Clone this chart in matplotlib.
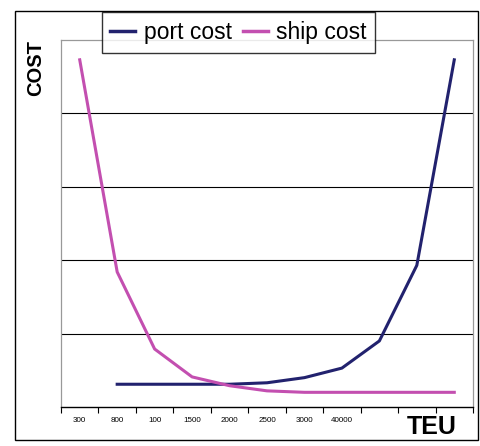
import matplotlib
matplotlib.use("Agg")
import matplotlib.pyplot as plt
from matplotlib.patches import Rectangle

plt.rcParams['font.family'] = ['Liberation Sans', 'DejaVu Sans']

teu_labels = ["300", "800", "100", "1500", "2000", "2500", "3000", "40000", "", "", ""]
ship_cost = [4.73, 1.84, 0.79, 0.41, 0.29, 0.22, 0.20, 0.20, 0.20, 0.20, 0.20]
port_cost = [None, 0.31, 0.31, 0.31, 0.31, 0.33, 0.40, 0.53, 0.90, 1.93, 4.73]

fig = plt.figure(figsize=(4.81, 4.46), dpi=100)
fig.patch.set_facecolor("white")
fig.patches.append(Rectangle((15 / 481, 1 - 440 / 446), 463 / 481, 429 / 446,
                             transform=fig.transFigure, fill=False,
                             edgecolor="black", linewidth=1.0))

ax = fig.add_axes([61 / 481, 1 - 407 / 446, 412 / 481, 367 / 446])

n = len(teu_labels)
xs = [i + 0.5 for i in range(n)]
px = [x for x, v in zip(xs, port_cost) if v is not None]
py = [v for v in port_cost if v is not None]

port_line, = ax.plot(px, py, color="#22226e", linewidth=2.2, label="port cost", zorder=3)
ship_line, = ax.plot(xs, ship_cost, color="#c34fb0", linewidth=2.2, label="ship cost", zorder=3)

ax.set_xlim(0, n)
ax.set_ylim(0, 5)
ax.set_yticks([1, 2, 3, 4])
ax.yaxis.grid(True, color="black", linewidth=0.8)
ax.tick_params(axis="y", left=False, labelleft=False)

ax.set_xticks(range(n + 1))
ax.set_xticklabels([])
ax.set_xticks(xs, minor=True)
ax.set_xticklabels(teu_labels, minor=True, fontsize=5.8)
ax.tick_params(axis="x", which="major", direction="out", length=4, width=0.8, color="black")
ax.tick_params(axis="x", which="minor", length=0, pad=7)

for side in ("left", "top", "right"):
    ax.spines[side].set_color("#999999")
    ax.spines[side].set_linewidth(0.9)
ax.spines["bottom"].set_color("black")
ax.spines["bottom"].set_linewidth(1.0)

fig.text(36 / 481, 1 - 68 / 446, "COST", rotation=90, fontsize=14.5, fontweight="heavy",
         ha="center", va="center")
fig.text(432 / 481, 1 - 427 / 446, "TEU", fontsize=18, fontweight="heavy",
         ha="center", va="center")

leg = fig.legend(handles=[port_line, ship_line], loc="center",
                 bbox_to_anchor=(238.5 / 481, 1 - 32.5 / 446), ncol=2,
                 fontsize=16.5, frameon=True, fancybox=False, handlelength=1.1,
                 handletextpad=0.35, columnspacing=0.5, borderpad=0.38,
                 borderaxespad=0)
leg.get_frame().set_edgecolor("black")
leg.get_frame().set_linewidth(1.0)
for h in leg.get_lines():
    h.set_linewidth(2.5)

fig.savefig("out.png", dpi=100, facecolor="white")
